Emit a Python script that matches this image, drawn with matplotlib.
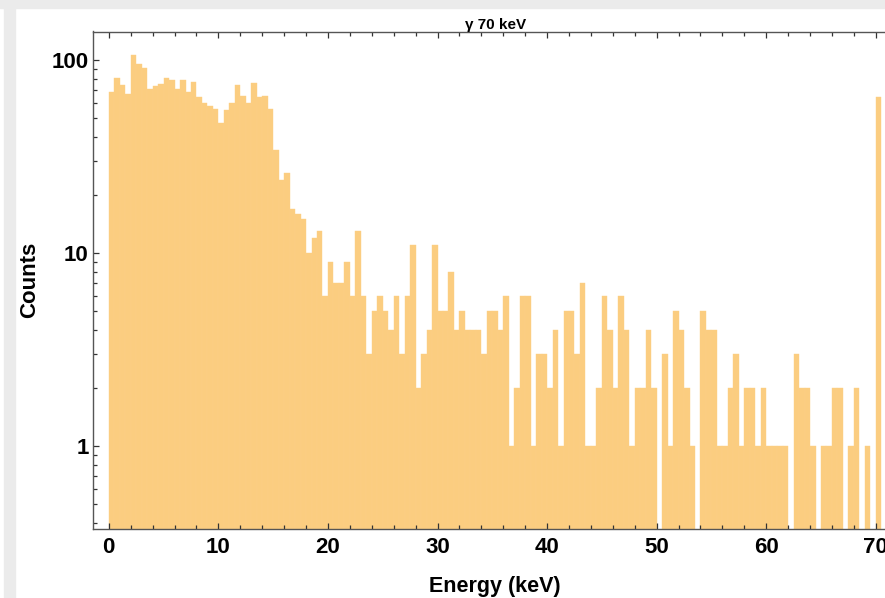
"""Gamma 70 keV energy histogram (log counts)."""
import numpy as np
import matplotlib
matplotlib.use("Agg")
import matplotlib.pyplot as plt
from matplotlib.patches import Rectangle
from matplotlib.ticker import FixedLocator, FixedFormatter, NullFormatter

plt.rcParams["font.family"] = ["Liberation Sans", "DejaVu Sans"]

bin_width = 0.5                      # keV
counts = [
    68, 81, 74, 67, 106, 95, 91, 71, 73, 75, 81, 79, 71, 79, 68, 77,
    64, 60, 58, 56, 47, 55, 60, 74, 65, 60, 76, 64, 65, 56, 34, 24,
    26, 17, 16, 15, 10, 12, 13, 6, 9, 7, 7, 9, 6, 13, 6, 3,
    5, 6, 5, 4, 6, 3, 6, 11, 2, 3, 4, 11, 5, 5, 8, 4,
    5, 4, 4, 4, 3, 5, 5, 4, 6, 1, 2, 6, 6, 1, 3, 3,
    2, 4, 1, 5, 5, 3, 7, 1, 1, 2, 6, 4, 2, 6, 4, 1,
    2, 2, 4, 2, 0, 3, 1, 5, 4, 2, 1, 0, 5, 4, 4, 1,
    1, 2, 3, 1, 2, 2, 1, 2, 1, 1, 1, 1, 0, 3, 2, 2,
    1, 0, 1, 1, 2, 2, 0, 1, 2, 0, 1, 0, 64]
edges = np.arange(len(counts)) * bin_width

x_major = [0, 10, 20, 30, 40, 50, 60, 70]
y_major = [1, 10, 100]
y_labels = ["1", "10", "100"]

fig = plt.figure(figsize=(8.85, 5.98), dpi=100)
fig.patches.append(Rectangle((0, 1 - 8 / 598), 1, 8 / 598, transform=fig.transFigure,
                             color="#ebebeb", zorder=0))
fig.patches.append(Rectangle((4 / 885, 0), 11 / 885, 1, transform=fig.transFigure,
                             color="#ebebeb", zorder=0))

ax = fig.add_axes([92.7 / 885, 69 / 598, 805 / 885, 497.5 / 598])
ax.bar(edges, counts, width=bin_width, align="edge", log=True,
       color="#fbcd80", edgecolor="#fbcf86", linewidth=0.3)

ax.set_xlim(-1.47, 72)
ax.set_ylim(0.371, 140.6)

ax.xaxis.set_major_locator(FixedLocator(x_major))
ax.xaxis.set_minor_locator(FixedLocator(np.arange(0, 72, 2)))
ax.yaxis.set_major_locator(FixedLocator(y_major))
ax.yaxis.set_major_formatter(FixedFormatter(y_labels))
ax.yaxis.set_minor_locator(FixedLocator(
    [0.4, 0.5, 0.6, 0.7, 0.8, 0.9] + list(range(2, 10)) + list(range(20, 100, 10))))
ax.yaxis.set_minor_formatter(NullFormatter())

ax.tick_params(which="both", direction="in", top=True, right=True,
               color="#333333", width=0.9)
ax.tick_params(which="major", length=4.5, labelsize=16, pad=6)
ax.tick_params(which="minor", length=2.6)
ax.tick_params(axis="y", which="major", pad=3)
for lab in ax.get_xticklabels() + ax.get_yticklabels():
    lab.set_fontweight("bold")
for sp in ax.spines.values():
    sp.set_color("#555555")
    sp.set_linewidth(1.0)

ax.set_xlabel("Energy (keV)", fontsize=15.5, fontweight="bold", labelpad=13)
ax.set_ylabel("Counts", fontsize=16, fontweight="bold", labelpad=8)
ax.set_title("γ 70 keV", fontsize=11, fontweight="bold", pad=2)

fig.savefig("out.png", dpi=100)
